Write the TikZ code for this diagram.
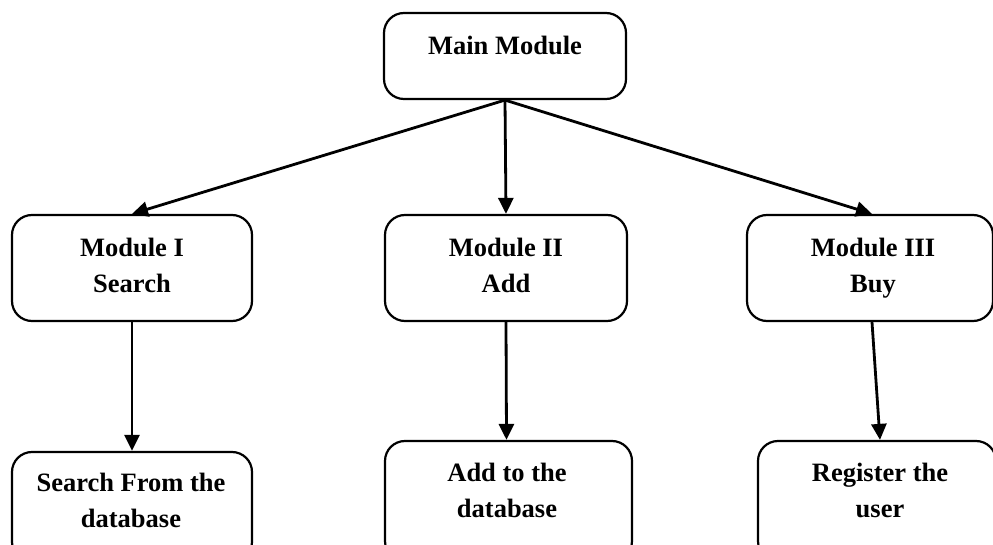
\documentclass[tikz,border=0pt]{standalone}
\usepackage{fontspec}
\setmainfont{Liberation Serif}
\usetikzlibrary{arrows.meta}
\tikzset{
  box/.style={draw=black, line width=2.2pt, rounded corners=20pt, inner sep=0pt, fill=white},
  txt/.style={font=\fontsize{26.5}{36}\selectfont\bfseries, align=center, inner sep=0pt},
  arr/.style={line width=2.8pt, -{Triangle[length=16pt,width=15pt]}, shorten <=-1pt}
}
\begin{document}
\begin{tikzpicture}[x=1pt,y=-1pt]
\useasboundingbox (0,0) rectangle (993,545);
\clip (0,0) rectangle (993,545);
\fill[white] (0,0) rectangle (993,545);
% boxes
\node[box, minimum width=242pt, minimum height=86pt] (main) at (505,56) {};
\node[box, minimum width=240pt, minimum height=106pt] (m1) at (132,268) {};
\node[box, minimum width=242pt, minimum height=106pt] (m2) at (506,268) {};
\node[box, minimum width=246pt, minimum height=106pt] (m3) at (870,268) {};
\node[box, minimum width=240pt, minimum height=110pt] (b1) at (132,507) {};
\node[box, minimum width=247pt, minimum height=120pt] (b2) at (508.5,501) {};
\node[box, minimum width=238pt, minimum height=120pt] (b3) at (877,501) {};
% texts
\node[txt] (tmain) at (505,45) {Main Module};
\node[txt] (t1) at (132,265) {Module I\\Search};
\node[txt] (t2) at (506,265) {Module II\\Add};
\node[txt] (t3) at (873,268) {Module III\\Buy};
\node[txt] (tb1) at (131,500) {Search From the\\database};
\node[txt] (tb2) at (507,490) {Add to the\\database};
\node[txt] (tb3) at (880,490) {Register the\\user};
% connectors
\draw[arr] (main.south) -- (m1.north);
\draw[arr] (main.south) -- (m2.north);
\draw[arr] (main.south) -- ([xshift=2pt]m3.north);
\draw[arr] (m1.south) -- (b1.north);
\draw[arr] (m2.south) -- ([xshift=-2pt]b2.north);
\draw[arr] ([xshift=2pt]m3.south) -- ([xshift=3pt]b3.north);
\end{tikzpicture}
\end{document}
